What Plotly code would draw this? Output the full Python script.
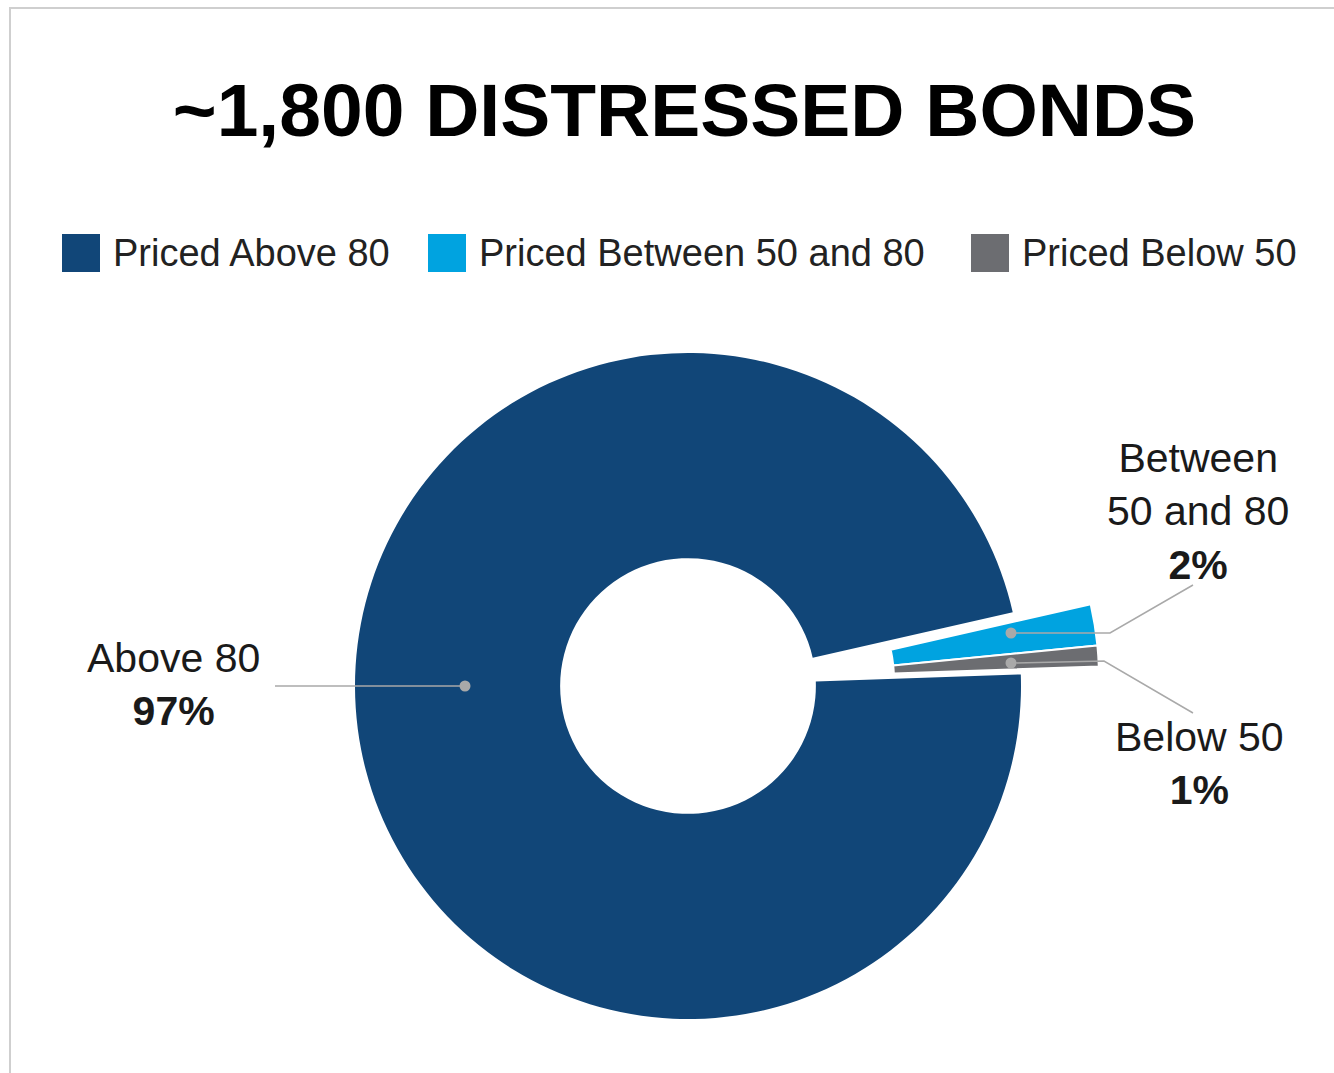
import plotly.graph_objects as go

# ---- data ----
labels = ["Priced Above 80", "Priced Between 50 and 80", "Priced Below 50"]
short_labels = ["Above 80", "Between<br>50 and 80", "Below 50"]
values = [97, 2, 1]
colors = ["#114678", "#00A3E0", "#6C6D71"]
title_text = "~1,800 DISTRESSED BONDS"

W, H = 1334, 1073
def px(x):
    return x / W
def py(y):
    return 1 - y / H

TRANSP = "rgba(0,0,0,0)"

fig = go.Figure()

# main ring (Above 80)
fig.add_trace(go.Pie(
    labels=labels, values=values, sort=False, direction="clockwise", rotation=88,
    hole=0.384, textinfo="none", showlegend=False,
    marker=dict(colors=[colors[0], TRANSP, TRANSP], line=dict(width=0)),
    domain=dict(x=[px(355), px(1021)], y=[py(1019), py(353)]),
    hoverinfo="label+percent",
))
# pulled-out small slices
fig.add_trace(go.Pie(
    labels=labels, values=values, sort=False, direction="clockwise", rotation=88,
    hole=0.384, textinfo="none", showlegend=False,
    marker=dict(colors=[TRANSP, colors[1], colors[2]],
                line=dict(width=2, color=[TRANSP, "white", "white"])),
    domain=dict(x=[px(433), px(1099)], y=[py(1011), py(345)]),
    hoverinfo="label+percent",
))

shapes = []
annotations = []

# frame
shapes.append(dict(type="rect", xref="paper", yref="paper",
                   x0=px(10), x1=px(1345), y0=py(8), y1=py(1085),
                   line=dict(color="#cfcfcf", width=2), fillcolor=TRANSP, layer="below"))

# custom legend
legend_pos = [(62, 113), (428, 479), (971, 1022)]
for (sx, tx), lab, col in zip(legend_pos, labels, colors):
    shapes.append(dict(type="rect", xref="paper", yref="paper",
                       x0=px(sx), x1=px(sx + 38), y0=py(272), y1=py(234),
                       line=dict(width=0), fillcolor=col))
    annotations.append(dict(text=lab, xref="paper", yref="paper", x=px(tx - 2), y=py(253),
                            xanchor="left", yanchor="middle", showarrow=False,
                            font=dict(family="Liberation Sans, Arial, sans-serif", size=38, color="#222222")))

# leader lines
line_col = "#a9a9a9"
leaders = [
    [(275, 686), (465, 686)],
    [(1011, 633), (1110, 633), (1193, 585)],
    [(1011, 663), (1104, 661), (1193, 713)],
]
for pts in leaders:
    path = "M " + " L ".join(f"{px(x)},{py(y)}" for x, y in pts)
    shapes.append(dict(type="path", xref="paper", yref="paper", path=path,
                       line=dict(color=line_col, width=1.5)))
dots = [(465, 686), (1011, 633), (1011, 663)]
r = 5.5
for x, y in dots:
    shapes.append(dict(type="circle", xref="paper", yref="paper",
                       x0=px(x - r), x1=px(x + r), y0=py(y + r), y1=py(y - r),
                       line=dict(width=0), fillcolor=line_col))

# slice labels
label_pos = [(173, 684), (1198, 511), (1199, 763)]
for (x, y), lab, v in zip(label_pos, short_labels, values):
    annotations.append(dict(text=f"{lab}<br><b>{v}%</b>", xref="paper", yref="paper",
                            x=px(x), y=py(y), xanchor="center", yanchor="middle",
                            align="center", showarrow=False,
                            font=dict(family="Liberation Sans, Arial, sans-serif", size=41, color="#1a1a1a")))

fig.update_layout(
    width=W, height=H, autosize=False,
    margin=dict(l=0, r=0, t=0, b=0),
    paper_bgcolor="white", plot_bgcolor="white",
    title=dict(text=title_text, x=px(684.5), y=py(110), xanchor="center", yanchor="middle",
               font=dict(family="Liberation Sans, Arial, sans-serif", size=75, color="#000000", weight=900)),
    shapes=shapes, annotations=annotations, showlegend=False,
)

fig.write_html("out.html")
